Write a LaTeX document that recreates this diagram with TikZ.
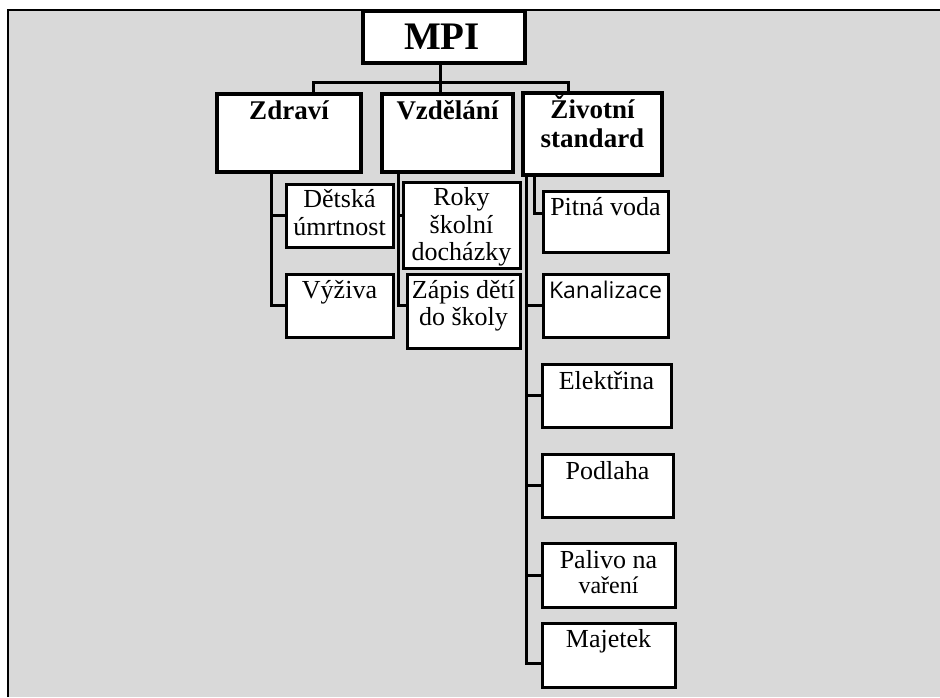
\documentclass[tikz,border=0pt]{standalone}
\usepackage{fontspec}
\setmainfont{Liberation Serif}
\newfontfamily\sansf{Open Sans}
\usetikzlibrary{calc}
\definecolor{bg}{HTML}{D9D9D9}
\begin{document}
\begin{tikzpicture}[x=1pt,y=-1pt,
  box/.style={draw=black, fill=white, line width=3pt, rectangle, inner sep=0pt, outer sep=0pt, anchor=north west},
  topbox/.style={box, line width=3.6pt},
  conn/.style={draw=black, line width=3pt},
  txt/.style={anchor=base, inner sep=0pt, font=\fontsize{26}{28}\selectfont},
  hd/.style={anchor=base, inner sep=0pt, font=\fontsize{27}{29}\selectfont\bfseries},
  kan/.style={anchor=base, inner sep=0pt, font=\fontsize{23}{26}\selectfont\sansf},
  small/.style={anchor=base, inner sep=0pt, font=\fontsize{24}{26}\selectfont}]
\useasboundingbox (0,0) rectangle (940,697);
\fill[bg] (8,10) rectangle (940,697);
\draw[line width=2.2pt] (8.3,697) -- (8.3,10.2) -- (940,10.2);

% boxes
\node[topbox, minimum width=162pt, minimum height=52pt] (mpi) at (363,11) {};
\node[topbox, minimum width=144pt, minimum height=78pt] (zd) at (217,94) {};
\node[topbox, minimum width=131pt, minimum height=78pt] (vz) at (382,94) {};
\node[topbox, minimum width=139pt, minimum height=82pt] (zs) at (523,93) {};
\node[box, minimum width=107pt, minimum height=63pt] (det) at (286,184) {};
\node[box, minimum width=107pt, minimum height=63pt] (vyz) at (286,274) {};
\node[box, minimum width=117pt, minimum height=86pt] (roky) at (403,182) {};
\node[box, minimum width=113pt, minimum height=74pt] (zap) at (407,274) {};
\node[box, minimum width=125pt, minimum height=61pt] (pit) at (543,191) {};
\node[box, minimum width=125pt, minimum height=63pt] (kn) at (543,274) {};
\node[box, minimum width=129pt, minimum height=63pt] (ele) at (542,364) {};
\node[box, minimum width=131pt, minimum height=63pt] (pod) at (542,454) {};
\node[box, minimum width=133pt, minimum height=64pt] (pal) at (542,543) {};
\node[box, minimum width=133pt, minimum height=64pt] (maj) at (542,623) {};

% connectors
\coordinate (bus) at ($(mpi.south west)+(77,19)$);
\draw[conn] ($(mpi.south west)+(77,0)$) -- (bus);
\draw[conn] ($(zd.north west)+(96,0)$) |- (bus) -| ($(zs.north west)+(45,0)$);
\draw[conn] (bus) -- ($(vz.north west)+(58,0)$);

\draw[conn] ($(zd.south west)+(54,0)$) |- ($(det.north west)+(0,31)$);
\draw[conn] ($(zd.south west)+(54,0)$) |- ($(vyz.north west)+(0,31)$);

\draw[conn] ($(vz.south west)+(16,0)$) |- ($(roky.north west)+(0,33)$);
\draw[conn] ($(vz.south west)+(16,0)$) |- ($(zap.north west)+(0,31)$);

\draw[conn] ($(zs.south west)+(11,0)$) |- ($(pit.north west)+(0,22)$);
\draw[conn] ($(zs.south west)+(3,0)$) |- ($(maj.north west)+(0,40)$);
\draw[conn] ($(zs.south west)+(3,0)$) |- ($(kn.north west)+(0,31)$);
\draw[conn] ($(zs.south west)+(3,0)$) |- ($(ele.north west)+(0,31)$);
\draw[conn] ($(zs.south west)+(3,0)$) |- ($(pod.north west)+(0,31)$);
\draw[conn] ($(zs.south west)+(3,0)$) |- ($(pal.north west)+(0,32)$);

% texts
\node[anchor=base, inner sep=0pt, font=\fontsize{39}{42}\selectfont\bfseries] (tmpi) at ($(mpi.north)+(-2,38)$) {MPI};
\node[hd] (tzd) at ($(zd.north)+(0,25)$) {Zdraví};
\node[hd] (tvz) at ($(vz.north)+(0,25)$) {Vzdělání};
\node[hd] (tzs1) at ($(zs.north)+(0,25)$) {Životní};
\node[hd] (tzs2) at ($(zs.north)+(0,54)$) {standard};
\node[txt] (tdet1) at ($(det.north)+(0,23)$) {Dětská};
\node[txt] (tdet2) at ($(det.north)+(0,51)$) {úmrtnost};
\node[txt] (tvyz) at ($(vyz.north)+(0,24)$) {Výživa};
\node[txt] (troky1) at ($(roky.north)+(0,23)$) {Roky};
\node[txt] (troky2) at ($(roky.north)+(0,51)$) {školní};
\node[txt] (troky3) at ($(roky.north)+(0,78)$) {docházky};
\node[txt] (tzap1) at ($(zap.north)+(0,24)$) {Zápis dětí};
\node[txt] (tzap2) at ($(zap.north)+(0,51)$) {do školy};
\node[txt] (tpit) at ($(pit.north)+(0,24)$) {Pitná voda};
\node[kan] (tkan) at ($(kn.north)+(0,24)$) {Kanalizace};
\node[txt] (tele) at ($(ele.north)+(0,25)$) {Elektřina};
\node[txt] (tpod) at ($(pod.north)+(0,25)$) {Podlaha};
\node[txt] (tpal1) at ($(pal.north)+(0,25)$) {Palivo na};
\node[small] (tpal2) at ($(pal.north)+(0,50)$) {vaření};
\node[txt] (tmaj) at ($(maj.north)+(0,24)$) {Majetek};
\end{tikzpicture}
\end{document}
